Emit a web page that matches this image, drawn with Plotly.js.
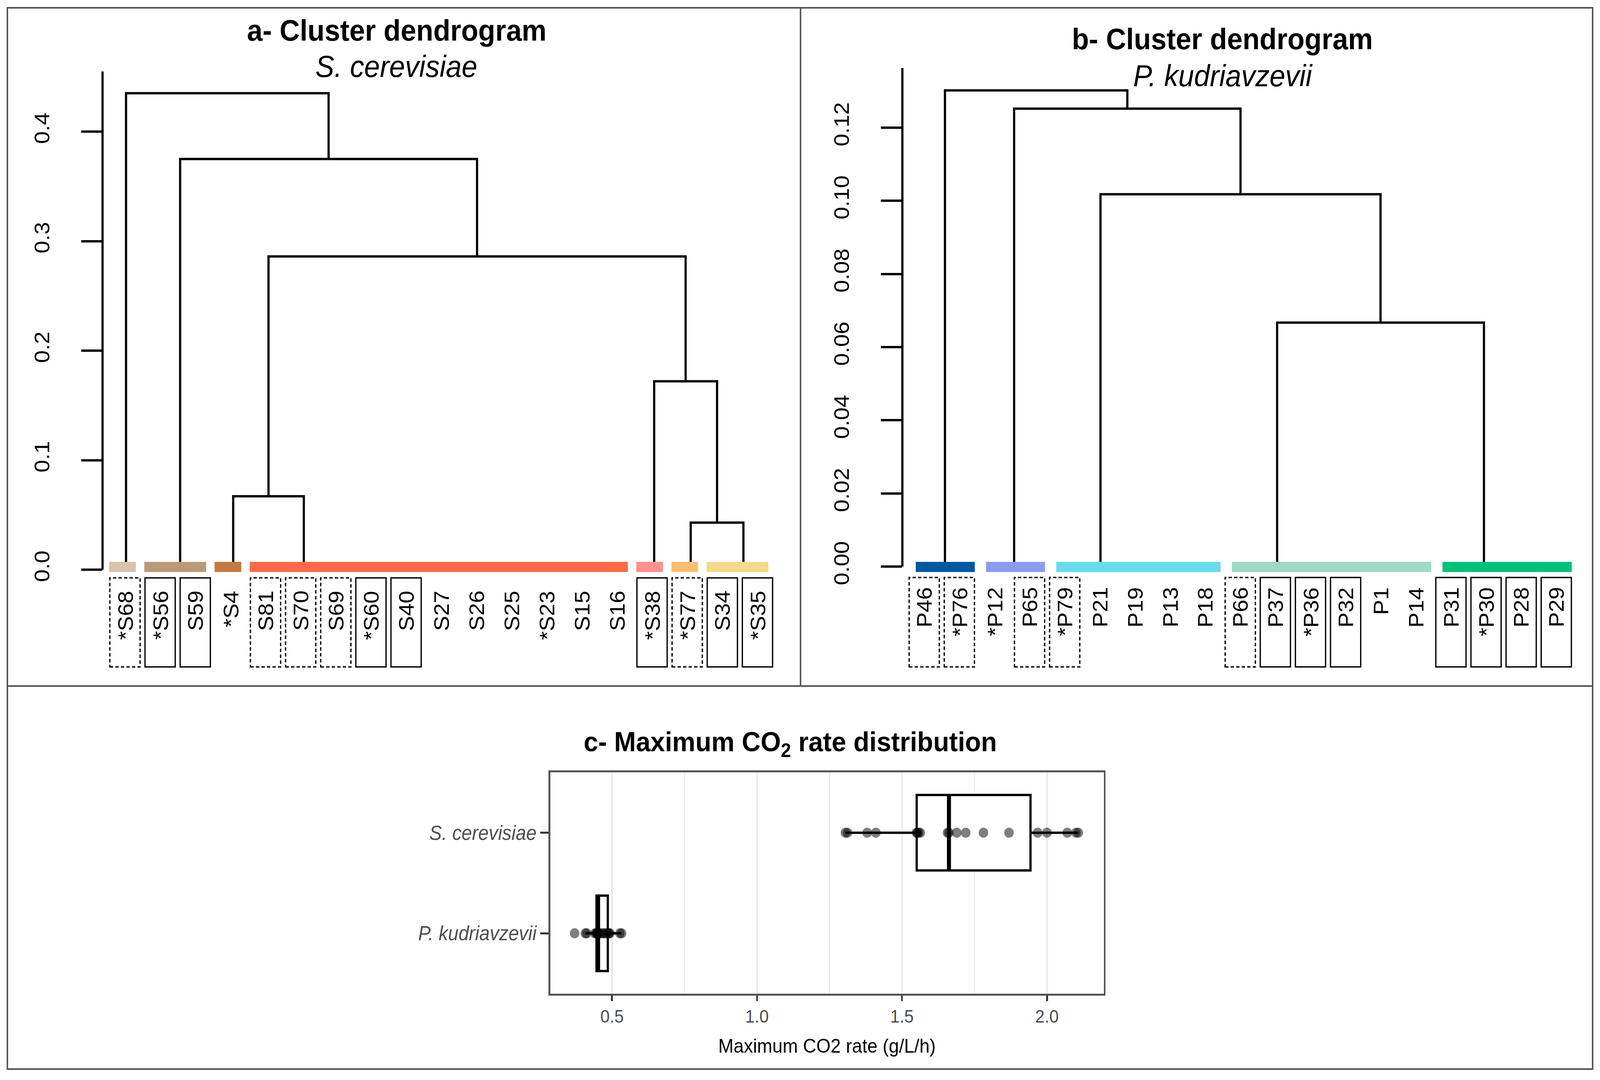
<!DOCTYPE html>
<html><head><meta charset="utf-8">
<script src="https://cdn.plot.ly/plotly-3.0.1.min.js"></script>
<style>html,body{margin:0;padding:0;background:#fff;overflow:hidden;}#chart{width:4353px;height:2766px;transform-origin:0 0;}</style>
</head><body><div id="chart"></div>
<script>
// ================= DATA =================
// Panel a: S. cerevisiae dendrogram
const leavesA = ['*S68','*S56','S59','*S4','S81','S70','S69','*S60','S40','S27','S26','S25','*S23','S15','S16','*S38','*S77','S34','*S35'];
const labelBoxA = ['dash','solid','solid','none','dash','dash','dash','solid','solid','none','none','none','none','none','none','solid','dash','solid','solid'];
const clusterOfLeafA = [1,2,2,3,4,4,4,4,4,4,4,4,4,4,4,5,6,7,7];
const clusterColorsA = ['#D8C3AB','#BC9A78','#C47A3F','#FF6A45','#FF928C','#FDBE6E','#F6D98A'];
const clusterAnchorA = [1.03, 2.57, 4.08, 6.09, 16.06, 17.1, 18.6];   // leaf-index position of each cluster stem
const mergeLeftA   = [-3, -6, -5, 1, -2, -1];   // negative = cluster, positive = earlier merge
const mergeRightA  = [-4, -7,  2, 3,  4,  5];
const mergeHeightA = [0.067, 0.043, 0.172, 0.286, 0.375, 0.435];
const yTicksA = [0, 0.1, 0.2, 0.3, 0.4];
const yTickTextA = ['0.0','0.1','0.2','0.3','0.4'];

// Panel b: P. kudriavzevii dendrogram
const leavesB = ['P46','*P76','*P12','P65','*P79','P21','P19','P13','P18','P66','P37','*P36','P32','P1','P14','P31','*P30','P28','P29'];
const labelBoxB = ['dash','dash','none','dash','dash','none','none','none','none','dash','solid','solid','solid','none','none','solid','solid','solid','solid'];
const clusterOfLeafB = [1,1,2,2,3,3,3,3,3,4,4,4,4,4,4,5,5,5,5];
const clusterColorsB = ['#0057A3','#8C9BF2','#66DCF0','#9CDBC4','#00C17A'];
const clusterAnchorB = [1.59, 3.56, 6.02, 11.05, 16.94];
const mergeLeftB   = [-4, -3, -2, -1];
const mergeRightB  = [-5,  1,  2,  3];
const mergeHeightB = [0.0667, 0.1018, 0.1252, 0.1302];
const yTicksB = [0, 0.02, 0.04, 0.06, 0.08, 0.10, 0.12];
const yTickTextB = ['0.00','0.02','0.04','0.06','0.08','0.10','0.12'];

// Panel c: maximum CO2 rate (g/L/h)
const speciesNames = ['P. kudriavzevii', 'S. cerevisiae'];
const co2Pk = [0.371,0.408,0.413,0.441,0.446,0.448,0.449,0.450,0.451,0.452,0.458,0.466,0.474,0.481,0.487,0.489,0.493,0.527,0.533];
const co2Sc = [1.305,1.312,1.380,1.410,1.550,1.553,1.557,1.563,1.657,1.662,1.689,1.720,1.781,1.869,1.968,2.000,2.070,2.100,2.108];
const xTicksC = [0.5, 1.0, 1.5, 2.0];
const xTickTextC = ['0.5','1.0','1.5','2.0'];

// ================= LAYOUT GEOMETRY =================
const W = 4353, H = 2766;
const FONT = 'Liberation Sans, Arial, Helvetica, sans-serif';
const px = v => v / W;
const py = v => 1 - v / H;

const geomA = {left:279, right:2160, top:183, bottom:1740, leaf1:340, step:95.6, zeroPx:1459, unitPx:2805,
  barTop:1439, barBot:1465, boxTop:1480, boxBot:1708, labelTop:1511, barPad:[0.45, 0.31], boxHalf:0.43};
const geomB = {left:2455, right:4320, top:174, bottom:1740, leaf1:2514.5, step:95.53, zeroPx:1451, unitPx:9367,
  barTop:1439, barBot:1465, boxTop:1479, boxBot:1708, labelTop:1502, barPad:[0.24, 0.44], boxHalf:0.43};

const xRangeOf = g => [1 + (g.left - g.leaf1) / g.step, 1 + (g.right - g.leaf1) / g.step];
const yRangeOf = g => [(g.zeroPx - g.bottom) / g.unitPx, (g.zeroPx - g.top) / g.unitPx];
const yValOf = (g, p) => (g.zeroPx - p) / g.unitPx;

const traces = [], shapes = [], annotations = [];

function buildDendro(g, xa, ya, leaves, boxes, clusterOf, colors, anchors, mL, mR, mH) {
  const base = yValOf(g, g.barTop);
  const pos = [], top = [], xs = [], ys = [];
  const node = r => r < 0 ? {x: anchors[-r - 1], y: base} : {x: pos[r - 1], y: top[r - 1]};
  for (let k = 0; k < mH.length; k++) {
    const a = node(mL[k]), b = node(mR[k]), h = mH[k];
    xs.push(a.x, a.x, b.x, b.x, null);
    ys.push(a.y, h, h, b.y, null);
    pos.push((a.x + b.x) / 2); top.push(h);
  }
  traces.push({type:'scatter', mode:'lines', x:xs, y:ys, xaxis:xa, yaxis:ya,
    line:{color:'#000', width:6}, hoverinfo:'skip', cliponaxis:false});
  // cluster colour bars
  colors.forEach((c, ci) => {
    const members = [];
    clusterOf.forEach((cl, i) => { if (cl === ci + 1) members.push(i + 1); });
    shapes.push({type:'rect', xref:xa, yref:'paper',
      x0: members[0] - g.barPad[0], x1: members[members.length - 1] + g.barPad[1],
      y0: py(g.barBot), y1: py(g.barTop), fillcolor:c, line:{width:0}, layer:'below'});
  });
  // leaf labels and boxes
  leaves.forEach((lab, i) => {
    const xi = i + 1;
    annotations.push({xref:xa, yref:'paper', x:xi, y:py(g.labelTop), text:lab, showarrow:false,
      textangle:-90, xanchor:'center', yanchor:'top', font:{family:FONT, size:58, color:'#000'}});
    if (boxes[i] !== 'none') {
      shapes.push({type:'rect', xref:xa, yref:'paper', x0:xi - g.boxHalf, x1:xi + g.boxHalf,
        y0:py(g.boxBot), y1:py(g.boxTop), fillcolor:'rgba(0,0,0,0)',
        line:{color:'#000', width:3.5, dash: boxes[i] === 'dash' ? '9px,6px' : 'solid'}});
    }
  });
  // y axis line from 0 to top of axis
  shapes.push({type:'line', xref:'paper', yref:ya, x0:px(g.left), x1:px(g.left),
    y0:0, y1:yRangeOf(g)[1], line:{color:'#000', width:6}});
}

buildDendro(geomA, 'x', 'y', leavesA, labelBoxA, clusterOfLeafA, clusterColorsA, clusterAnchorA, mergeLeftA, mergeRightA, mergeHeightA);
buildDendro(geomB, 'x2', 'y2', leavesB, labelBoxB, clusterOfLeafB, clusterColorsB, clusterAnchorB, mergeLeftB, mergeRightB, mergeHeightB);

// ---- Panel c: boxplots ----
const boxW = 0.75;
function median(arr) {
  const s = arr.slice().sort((a, b) => a - b), n = s.length, h = (n - 1) / 2;
  return (s[Math.floor(h)] + s[Math.ceil(h)]) / 2;
}
[co2Pk, co2Sc].forEach((vals, k) => {
  const yPos = k + 1;
  traces.push({type:'box', orientation:'h', x:vals, y0:yPos, width:boxW, xaxis:'x3', yaxis:'y3',
    boxpoints:'all', jitter:0, pointpos:0, quartilemethod:'linear',
    marker:{color:'rgba(0,0,0,0)', size:1}, fillcolor:'#fff', line:{color:'#000', width:6},
    whiskerwidth:0, hoverinfo:'skip', name:speciesNames[k]});
  const m = median(vals);
  traces.push({type:'scatter', mode:'lines', x:[m, m], y:[yPos - boxW / 2, yPos + boxW / 2],
    xaxis:'x3', yaxis:'y3', line:{color:'#000', width:11}, hoverinfo:'skip'});
  traces.push({type:'scatter', mode:'markers', x:vals, y:vals.map(() => yPos), xaxis:'x3', yaxis:'y3',
    marker:{color:'rgba(0,0,0,0.5)', size:26, line:{width:0}}, hoverinfo:'skip'});
});

// ---- frame lines ----
shapes.push({type:'rect', xref:'paper', yref:'paper', x0:px(20), x1:px(4333), y0:py(2738), y1:py(20),
  line:{color:'#505050', width:4}, fillcolor:'rgba(0,0,0,0)'});
shapes.push({type:'line', xref:'paper', yref:'paper', x0:px(2178), x1:px(2178), y0:py(1757), y1:py(20),
  line:{color:'#505050', width:4}});
shapes.push({type:'line', xref:'paper', yref:'paper', x0:px(20), x1:px(4333), y0:py(1757), y1:py(1757),
  line:{color:'#505050', width:4}});

// ---- titles ----
const titleFont = {family:FONT, size:76, color:'#000'};
const subFont = {family:FONT, size:77, color:'#000'};
const ttl = (x, y, text, font) => annotations.push({xref:'paper', yref:'paper', x:px(x), y:py(y), text:text,
  showarrow:false, xanchor:'center', yanchor:'middle', font:font});
ttl(1079, 78, '<b>a- Cluster dendrogram</b>', titleFont);
ttl(1078, 170, '<i>S. cerevisiae</i>', subFont);
ttl(3325, 100, '<b>b- Cluster dendrogram</b>', titleFont);
ttl(3327, 194, '<i>P. kudriavzevii</i>', subFont);
ttl(2150, 1905, '<b>c- Maximum CO<sub>2</sub> rate distribution</b>', {family:FONT, size:71, color:'#000'});

const dendroY = (g, xa, tv, tt) => ({domain:[py(g.bottom), py(g.top)], range:yRangeOf(g), anchor:xa,
  tickmode:'array', tickvals:tv, ticktext:tt, ticks:'outside', ticklen:57, tickwidth:6, tickcolor:'#000',
  tickangle:-90, ticklabelstandoff:64, tickfont:{family:FONT, size:58, color:'#000'},
  showgrid:false, zeroline:false, showline:false, fixedrange:true});

const layout = {
  width:W, height:H, margin:{l:0, r:0, t:0, b:0}, paper_bgcolor:'#fff', plot_bgcolor:'rgba(0,0,0,0)',
  showlegend:false, font:{family:FONT},
  xaxis:{domain:[px(geomA.left), px(geomA.right)], range:xRangeOf(geomA), visible:false, anchor:'y', fixedrange:true},
  yaxis:dendroY(geomA, 'x', yTicksA, yTickTextA),
  xaxis2:{domain:[px(geomB.left), px(geomB.right)], range:xRangeOf(geomB), visible:false, anchor:'y2', fixedrange:true},
  yaxis2:dendroY(geomB, 'x2', yTicksB, yTickTextB),
  xaxis3:{domain:[px(1497), px(3003)], range:[0.287, 2.196], anchor:'y3',
    tickmode:'array', tickvals:xTicksC, ticktext:xTickTextC, ticks:'outside', ticklen:14, tickwidth:5, tickcolor:'#333',
    tickfont:{family:FONT, size:46, color:'#4D4D4D'},
    showgrid:true, gridcolor:'#EBEBEB', gridwidth:5,
    minor:{tickmode:'array', tickvals:[0.75, 1.25, 1.75], showgrid:true, gridcolor:'#EBEBEB', gridwidth:3, ticks:''},
    zeroline:false, showline:true, mirror:true, linecolor:'#555', linewidth:5,
    title:{text:'Maximum CO2 rate (g/L/h)', font:{family:FONT, size:50, color:'#000'}, standoff:34}},
  yaxis3:{domain:[py(2545), py(1978)], range:[0.4, 2.6], anchor:'x3',
    tickmode:'array', tickvals:[1, 2], ticktext:speciesNames.map(s => '<i>' + s + '</i>'),
    ticks:'outside', ticklen:22, tickwidth:5, tickcolor:'#333',
    tickfont:{family:FONT, size:51, color:'#4D4D4D'},
    showgrid:false, zeroline:false, showline:true, mirror:true, linecolor:'#555', linewidth:5},
  shapes:shapes, annotations:annotations
};

// fit the 4353x2766 drawing into whatever viewport the page gets
const chartEl = document.getElementById('chart');
let sx = window.innerWidth / W, sy = window.innerHeight / H;
if (!(sx > 0)) sx = 1; if (!(sy > 0)) sy = 1;
chartEl.style.transform = 'scale(' + sx + ',' + sy + ')';

Plotly.newPlot(chartEl, traces, layout, {displayModeBar:false, staticPlot:true});
</script></body></html>
